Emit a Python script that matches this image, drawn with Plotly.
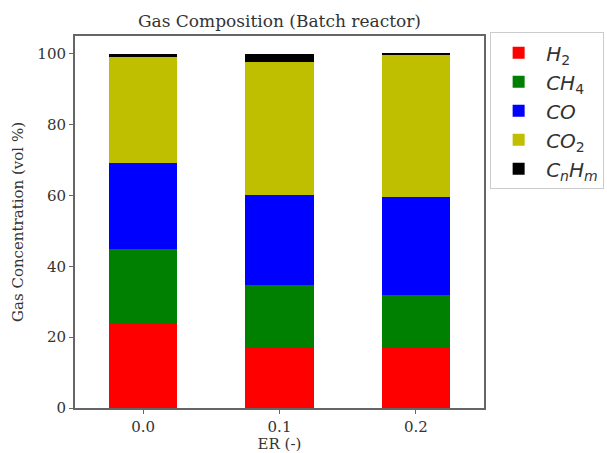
import plotly.graph_objects as go

categories = ["0.0", "0.1", "0.2"]
h2 = [24.0, 17.2, 16.8]
ch4 = [20.9, 17.5, 15.1]
co = [24.3, 25.3, 27.6]
co2 = [29.9, 37.7, 40.2]
cnhm = [0.9, 2.3, 0.3]

series = [
    ("<i>H</i><sub>2</sub>", h2, "#ff0000"),
    ("<i>CH</i><sub>4</sub>", ch4, "#008000"),
    ("<i>CO</i>", co, "#0000ff"),
    ("<i>CO</i><sub>2</sub>", co2, "#bfbf00"),
    ("<i>C<sub>n</sub>H<sub>m</sub></i>", cnhm, "#000000"),
]

font_family = "DejaVu Serif, serif"

fig = go.Figure()
for name, vals, color in series:
    fig.add_trace(go.Bar(
        x=categories, y=vals, name=name,
        marker=dict(color=color, line=dict(width=0)),
        width=0.5,
    ))

fig.update_layout(
    barmode="stack",
    width=607, height=453,
    paper_bgcolor="white", plot_bgcolor="white",
    margin=dict(l=75, r=123, t=36, b=45, autoexpand=False),
    font=dict(family=font_family, size=15, color="#333333"),
    title=dict(text="Gas Composition (Batch reactor)", x=(75 + 484) / 2 / 607, xanchor="center",
               y=1 - 21 / 453, yanchor="middle", font=dict(size=17, family=font_family, color="#333333")),
    legend=dict(
        x=1.015, y=1.01, xanchor="left", yanchor="top",
        bordercolor="#cccccc", borderwidth=1, bgcolor="white",
        font=dict(size=20, family="DejaVu Sans, sans-serif", color="#333333"),
        tracegroupgap=0, itemwidth=45,
        traceorder="normal",
    ),
    showlegend=True,
)

fig.update_xaxes(
    type="category", range=[-0.5, 2.5],
    showline=True, linecolor="#666666", linewidth=2, mirror=True,
    ticks="outside", ticklen=4, tickcolor="#666666",
    showgrid=False, automargin=False,
    title=dict(text="ER (-)", font=dict(size=15), standoff=2),
)
fig.update_yaxes(
    range=[0, 105],
    tickvals=[0, 20, 40, 60, 80, 100],
    showline=True, linecolor="#666666", linewidth=2, mirror=True,
    ticks="outside", ticklen=4, tickcolor="#666666",
    showgrid=False, zeroline=False, automargin=False,
    title=dict(text="Gas Concentration (vol %)", font=dict(size=15), standoff=10),
)

fig.write_html("out.html")
